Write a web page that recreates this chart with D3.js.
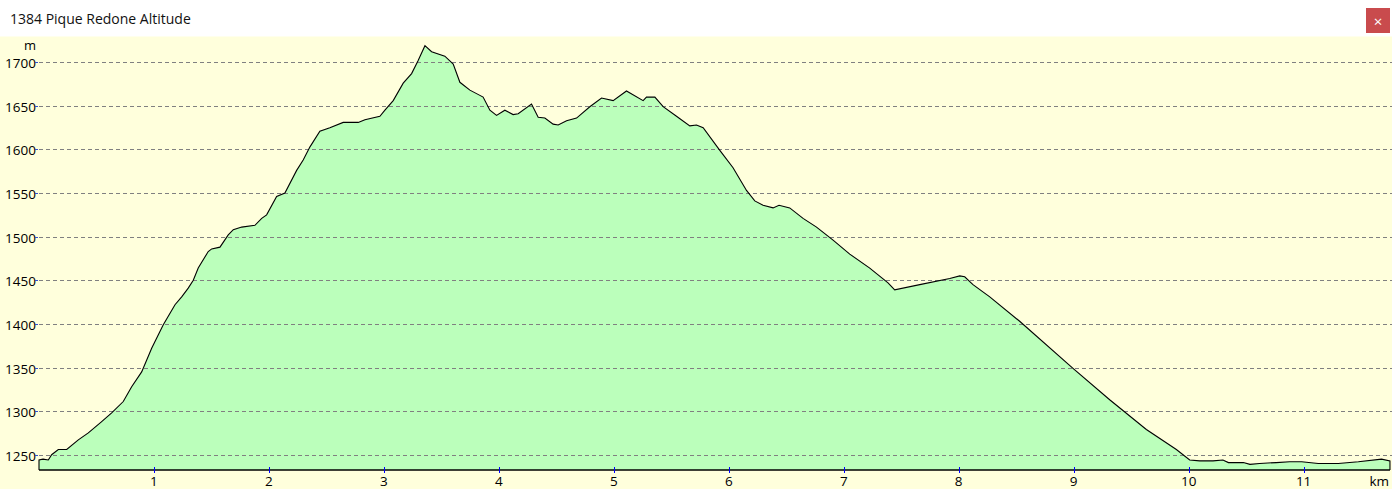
<!DOCTYPE html>
<html><head><meta charset="utf-8">
<script src="https://cdn.jsdelivr.net/npm/d3@7"></script>
<style>
html,body{margin:0;padding:0;background:#fff;overflow:hidden;}
svg{display:block;}
</style></head><body>
<svg id="c" width="1392" height="489"></svg>
<script>
const title = "1384 Pique Redone Altitude";
const distKm = [0.000,0.035,0.081,0.110,0.168,0.241,0.342,0.429,0.545,0.632,0.733,0.806,0.893,0.980,1.081,1.183,1.241,1.298,1.342,1.385,1.472,1.502,1.574,1.646,1.690,1.763,1.878,1.937,1.980,2.067,2.139,2.241,2.298,2.357,2.443,2.530,2.646,2.777,2.835,2.965,3.009,3.081,3.168,3.241,3.298,3.357,3.415,3.530,3.603,3.661,3.748,3.835,3.863,3.922,3.980,4.052,4.124,4.168,4.284,4.342,4.400,4.472,4.516,4.589,4.676,4.791,4.893,4.994,5.110,5.255,5.284,5.357,5.429,5.545,5.661,5.719,5.777,5.922,6.037,6.154,6.226,6.298,6.385,6.437,6.530,6.646,6.763,6.907,7.052,7.226,7.385,7.443,7.661,7.922,8.009,8.052,8.124,8.270,8.530,8.994,9.313,9.632,9.893,10.009,10.096,10.212,10.298,10.346,10.476,10.533,10.617,10.762,10.878,10.983,11.127,11.301,11.476,11.678,11.751];
const altM = [1244,1245,1244,1250,1256,1256,1267,1275,1288,1298,1311,1328,1345,1372,1399,1422,1431,1441,1450,1464,1483,1486,1488,1502,1508,1511,1513,1521,1525,1546,1550,1576,1588,1603,1621,1625,1631,1631,1634,1638,1645,1656,1676,1687,1702,1719,1712,1707,1698,1677,1668,1662,1660,1645,1639,1645,1640,1641,1652,1637,1636,1629,1628,1633,1636,1649,1659,1656,1667,1656,1660,1660,1649,1638,1627,1628,1625,1599,1579,1553,1541,1536,1533,1536,1533,1521,1511,1496,1480,1464,1447,1439,1445,1452,1455,1454,1445,1431,1403,1349,1313,1279,1256,1244,1243,1243,1244,1241,1241,1239,1240,1241,1242,1242,1240,1240,1242,1245,1243];
const yTicks = [1250,1300,1350,1400,1450,1500,1550,1600,1650,1700];
const xTicks = [1,2,3,4,5,6,7,8,9,10,11];
const yUnit = "m", xUnit = "km";
const xMax = 11.76, yMin = 1232.5, yMax = 1729.5;

const svg = d3.select("#c");
const W = 1392, H = 489;
const plotTop = 36.5, plotBottom = 470, plotLeft = 39, plotRight = 1391;
const font = "'Open Sans','Noto Sans',sans-serif";

// backgrounds
svg.append("rect").attr("x",0).attr("y",0).attr("width",W).attr("height",H).attr("fill","#ffffff");
svg.append("rect").attr("x",0).attr("y",plotTop).attr("width",W).attr("height",H-plotTop).attr("fill","#ffffdc");

// title bar
svg.append("text").attr("x",10).attr("y",23.5).attr("font-family",font).attr("font-size",14)
  .attr("fill","#111").text(title);
svg.append("rect").attr("x",1366).attr("y",8).attr("width",24).attr("height",25).attr("fill","#c94b4d");
svg.append("text").attr("x",1378).attr("y",20.5).attr("text-anchor","middle").attr("dominant-baseline","central")
  .attr("font-family",font).attr("font-size",15).attr("fill","#fff").text("\u00d7");

const x = d3.scaleLinear().domain([0,xMax]).range([plotLeft,plotRight]);
const y = d3.scaleLinear().domain([yMin,yMax]).range([plotBottom,plotTop]);

const data = distKm.map((d,i)=>({d, a: altM[i]}));

// area fill
const area = d3.area().x(p=>x(p.d)).y0(y(yMin)).y1(p=>y(p.a));
svg.append("path").datum(data).attr("d",area).attr("fill","#bbffbb");

// gridlines
svg.append("g").selectAll("line").data(yTicks).join("line")
  .attr("x1",plotLeft).attr("x2",W).attr("y1",v=>Math.round(y(v))+0.5).attr("y2",v=>Math.round(y(v))+0.5)
  .attr("stroke","#808080").attr("stroke-width",1).attr("stroke-dasharray","4,3");

// outline of profile (top line + ends + baseline)
const last = data[data.length-1];
const outline = [{d:0,a:yMin}].concat(data).concat([{d:last.d,a:yMin}]);
const line = d3.line().x(p=>x(p.d)).y(p=>y(p.a));
svg.append("path").datum(outline).attr("d",line).attr("fill","none").attr("stroke","#000").attr("stroke-width",1.1);
svg.append("line").attr("x1",plotLeft).attr("x2",x(last.d)).attr("y1",plotBottom).attr("y2",plotBottom)
  .attr("stroke","#000").attr("stroke-width",1.5);

// y axis labels
const yg = svg.append("g");
yg.selectAll("text").data(yTicks).join("text")
  .attr("x",36).attr("y",v=>y(v)+1).attr("text-anchor","end").attr("dominant-baseline","central")
  .attr("font-family",font).attr("font-size",13.5).attr("fill","#000").text(v=>v);
yg.selectAll("line").data(yTicks).join("line")
  .attr("x1",35).attr("x2",38).attr("y1",v=>Math.round(y(v))+0.5).attr("y2",v=>Math.round(y(v))+0.5)
  .attr("stroke","#3050d0").attr("stroke-width",1);
svg.append("text").attr("x",36).attr("y",45).attr("text-anchor","end").attr("dominant-baseline","central")
  .attr("font-family",font).attr("font-size",13).attr("fill","#000").text(yUnit);

// x axis ticks & labels
const xg = svg.append("g");
xg.selectAll("line").data(xTicks).join("line")
  .attr("x1",v=>Math.round(x(v))+0.5).attr("x2",v=>Math.round(x(v))+0.5).attr("y1",467).attr("y2",473)
  .attr("stroke","#0000ff").attr("stroke-width",1);
xg.selectAll("text").data(xTicks).join("text")
  .attr("x",v=>x(v)).attr("y",481).attr("text-anchor","middle").attr("dominant-baseline","central")
  .attr("font-family",font).attr("font-size",13.5).attr("fill","#000").text(v=>v);
svg.append("text").attr("x",1389).attr("y",481).attr("text-anchor","end").attr("dominant-baseline","central")
  .attr("font-family",font).attr("font-size",13.5).attr("fill","#000").text(xUnit);
</script>
</body></html>
